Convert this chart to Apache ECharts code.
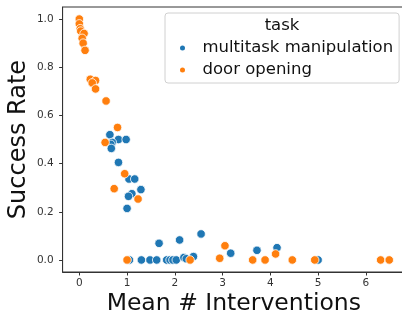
<!DOCTYPE html>
<html>
<head>
<meta charset="utf-8">
<script src="https://cdn.jsdelivr.net/npm/echarts@6/dist/echarts.min.js"></script>
<style>
  html, body { margin: 0; padding: 0; background: #fff; }
  #chart { width: 402px; height: 316px; }
</style>
</head>
<body>
<div id="chart"></div>
<script>
// task names (legend order)
const taskNames = ['multitask manipulation', 'door opening']

// [mean # interventions, success rate]
const multitaskPoints = [
  [0.64, 0.52], [0.82, 0.50], [0.98, 0.50], [0.69, 0.488], [0.66, 0.48],
  [0.67, 0.463], [0.82, 0.405], [1.04, 0.336], [1.16, 0.336], [1.29, 0.292],
  [1.10, 0.275], [1.03, 0.264], [1.00, 0.214], [1.67, 0.069], [2.10, 0.083],
  [2.55, 0.108], [3.17, 0.028], [3.72, 0.04], [4.14, 0.051],
  [1.05, 0], [1.30, 0], [1.48, 0], [1.62, 0], [1.83, 0], [1.90, 0],
  [1.96, 0], [2.03, 0], [2.19, 0.01], [2.24, 0.005], [2.39, 0.014], [5.00, 0]
]

const doorPoints = [
  [0.00, 1.0], [0.00, 0.98], [0.02, 0.96], [0.03, 0.95], [0.10, 0.94],
  [0.06, 0.92], [0.08, 0.90], [0.12, 0.87], [0.23, 0.75], [0.34, 0.745],
  [0.27, 0.735], [0.34, 0.71], [0.56, 0.66], [0.80, 0.55], [0.54, 0.488],
  [0.95, 0.358], [0.73, 0.296], [1.23, 0.253], [1.00, 0], [2.32, 0],
  [2.94, 0.007], [3.05, 0.059], [3.63, 0], [3.89, 0], [4.11, 0.025],
  [4.46, 0], [4.93, 0], [6.31, 0], [6.49, 0]
]

const xTicks = [0, 1, 2, 3, 4, 5, 6]
const yTicks = [0, 0.2, 0.4, 0.6, 0.8, 1.0]

const chart = echarts.init(document.getElementById('chart'))
chart.setOption({
  animation: false,
  textStyle: { fontFamily: 'DejaVu Sans' },
  grid: {
    left: 62.6, right: -3, top: 7, bottom: 44,
    containLabel: false, outerBoundsMode: 'none',
    show: true, borderColor: '#333', borderWidth: 1
  },
  legend: {
    data: taskNames,
    orient: 'vertical',
    left: 165, top: 13,
    padding: [26, 6, 4, 13],
    itemGap: 4,
    itemWidth: 30, itemHeight: 7,
    icon: 'circle',
    backgroundColor: 'rgba(255,255,255,0.8)',
    borderColor: '#d0d0d0', borderWidth: 1, borderRadius: 3,
    textStyle: { fontSize: 16.5, color: '#111', lineHeight: 18 }
  },
  graphic: [{
    type: 'text', z: 100,
    style: { x: 282, y: 26, text: 'task', align: 'center', verticalAlign: 'middle',
      fontSize: 16.5, fill: '#111', fontFamily: 'DejaVu Sans' }
  }],
  xAxis: {
    type: 'value',
    min: -0.35, max: 6.82,
    name: 'Mean # Interventions',
    nameLocation: 'middle', nameGap: 20, nameMoveOverlap: false,
    nameTextStyle: { fontSize: 23.5, color: '#111' },
    axisLine: { show: true, onZero: false, lineStyle: { color: '#333' } },
    axisTick: { show: true, length: 3.5, lineStyle: { color: '#333' }, customValues: xTicks },
    axisLabel: { fontSize: 10.5, color: '#333', margin: 6, customValues: xTicks },
    splitLine: { show: false }
  },
  yAxis: {
    type: 'value',
    min: -0.05, max: 1.05,
    name: 'Success Rate',
    nameLocation: 'middle', nameGap: 32, nameMoveOverlap: false,
    nameTextStyle: { fontSize: 24, color: '#111' },
    axisLine: { show: true, onZero: false, lineStyle: { color: '#333' } },
    axisTick: { show: true, length: 3.5, lineStyle: { color: '#333' }, customValues: yTicks },
    axisLabel: { fontSize: 10.5, color: '#333', margin: 9, customValues: yTicks,
      formatter: v => v.toFixed(1) },
    splitLine: { show: false }
  },
  series: [
    {
      name: taskNames[0],
      type: 'scatter',
      data: multitaskPoints,
      symbolSize: 8.5,
      itemStyle: { color: '#1f77b4', borderColor: '#fff', borderWidth: 0.8, opacity: 1 }
    },
    {
      name: taskNames[1],
      type: 'scatter',
      data: doorPoints,
      symbolSize: 8.5,
      itemStyle: { color: '#ff7f0e', borderColor: '#fff', borderWidth: 0.8, opacity: 1 }
    }
  ]
})
</script>
</body>
</html>
